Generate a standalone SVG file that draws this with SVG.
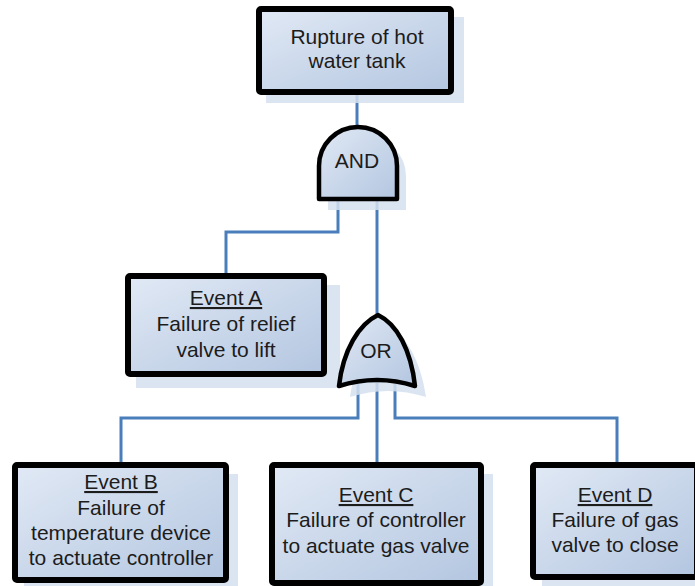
<svg xmlns="http://www.w3.org/2000/svg" width="695" height="586" viewBox="0 0 695 586">
  <defs>
    <linearGradient id="fillGrad" x1="0" y1="0" x2="1" y2="1">
      <stop offset="0" stop-color="#e1e9f5"/>
      <stop offset="1" stop-color="#b3c6e0"/>
    </linearGradient>
    <style>
      .shadow { fill: #d5e0ee; opacity: 0.85; }
      .node { fill: url(#fillGrad); stroke: #000; stroke-width: 6; }
      .gate { fill: url(#fillGrad); stroke: #000; stroke-width: 4.5; stroke-linejoin: round; }
      .conn { fill: none; stroke: #4a7ebb; stroke-width: 3; }
      text { font-family: "Liberation Sans", Arial, sans-serif; font-size: 21px; fill: #1c1c1c; text-anchor: middle; }
      .title { text-decoration: underline; }
    </style>
  </defs>

  <g id="connectors">
    <path class="conn" d="M357,92 V128"/>
    <path class="conn" d="M338,198 V232 H226 V274"/>
    <path class="conn" d="M377,198 V316"/>
    <path class="conn" d="M358,384 V418 H121 V463"/>
    <path class="conn" d="M377,380 V463"/>
    <path class="conn" d="M395,384 V418 H617 V463"/>
  </g>

  <g id="top-event">
    <rect class="shadow" x="266" y="17" width="198" height="86"/>
    <rect class="node" x="259" y="9" width="192" height="83" rx="2"/>
    <text x="357" y="44">Rupture of hot</text>
    <text x="357" y="68">water tank</text>
  </g>

  <g id="and-gate">
    <path class="shadow" d="M328,210 L328,176 A39,39 0 0 1 406,176 L406,210 Z"/>
    <path class="gate" d="M319,199 L319,166 A39,39 0 0 1 397,166 L397,199 Z"/>
    <text x="357" y="168">AND</text>
  </g>

  <g id="event-a">
    <rect class="shadow" x="136" y="285" width="204" height="103"/>
    <rect class="node" x="128" y="276" width="196" height="98" rx="2"/>
    <text class="title" x="226" y="305">Event A</text>
    <text x="226" y="331">Failure of relief</text>
    <text x="226" y="357">valve to lift</text>
  </g>

  <g id="or-gate">
    <path class="shadow" d="M389,326 C406,336 421,361 426,397 Q388,385 350,397 C355,361 371,336 389,326 Z"/>
    <path class="gate" d="M378,315 C397,324 411,350 415,386 Q377,374 339,386 C343,350 359,324 378,315 Z"/>
    <text x="376" y="358">OR</text>
  </g>

  <g id="event-b">
    <rect class="shadow" x="24" y="474" width="214" height="120"/>
    <rect class="node" x="15" y="465" width="211" height="115" rx="2"/>
    <text class="title" x="121" y="489">Event B</text>
    <text x="121" y="515">Failure of</text>
    <text x="121" y="540">temperature device</text>
    <text x="121" y="565">to actuate controller</text>
  </g>

  <g id="event-c">
    <rect class="shadow" x="281" y="474" width="212" height="120"/>
    <rect class="node" x="272" y="465" width="209" height="118" rx="2"/>
    <text class="title" x="376" y="502">Event C</text>
    <text x="376" y="527">Failure of controller</text>
    <text x="376" y="553">to actuate gas valve</text>
  </g>

  <g id="event-d">
    <rect class="shadow" x="542" y="474" width="164" height="120"/>
    <rect class="node" x="533" y="465" width="164" height="112" rx="2"/>
    <text class="title" x="615" y="502">Event D</text>
    <text x="615" y="527">Failure of gas</text>
    <text x="615" y="552">valve to close</text>
  </g>
</svg>
